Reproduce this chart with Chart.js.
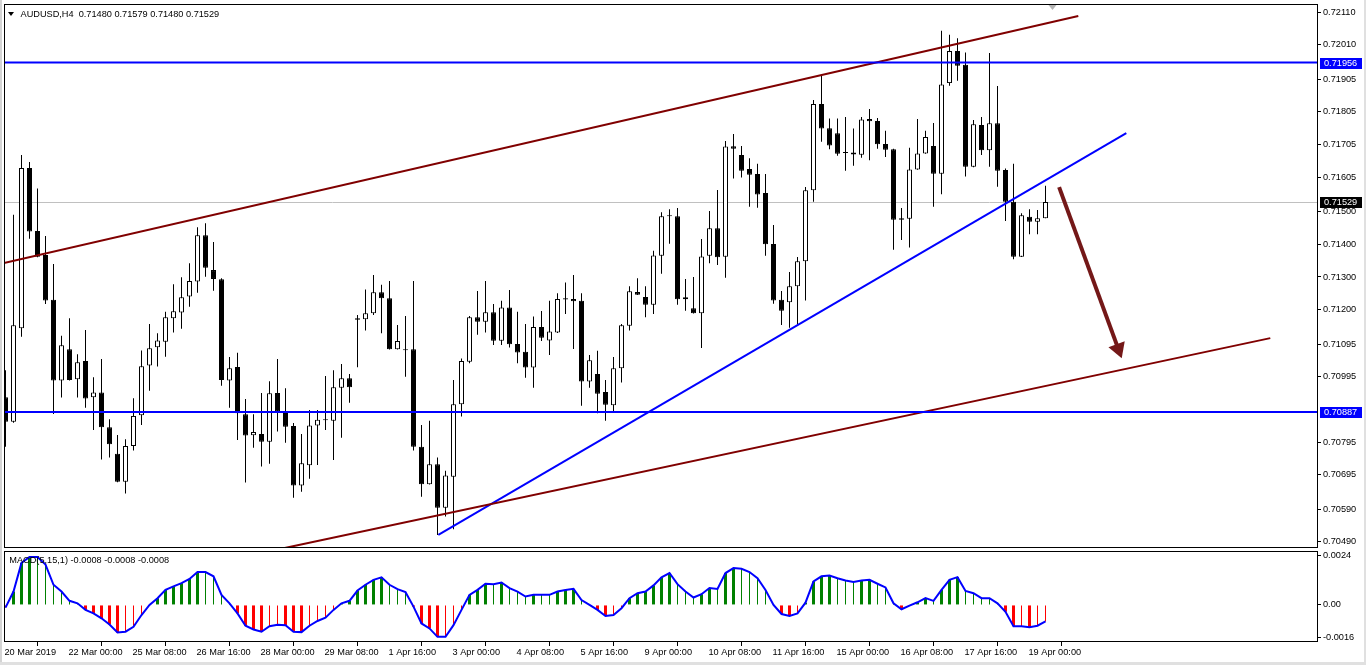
<!DOCTYPE html>
<html><head><meta charset="utf-8">
<script src="https://cdn.jsdelivr.net/npm/chart.js@4.4.1/dist/chart.umd.min.js"></script>
<style>
html,body{margin:0;padding:0;background:#fff;width:1366px;height:665px;overflow:hidden;}
#wrap{position:relative;width:1366px;height:665px;}
#main{position:absolute;left:0;top:0;}
#macd{position:absolute;left:0;top:549px;}
.lbl{position:absolute;font-family:'Liberation Sans',Arial,sans-serif;font-size:9.2px;color:#000;white-space:pre;line-height:10px;}
#tri{position:absolute;left:8px;top:12px;width:0;height:0;border-left:3.5px solid transparent;border-right:3.5px solid transparent;border-top:4px solid #000;}
#edgeL{position:absolute;left:0;top:0;width:2px;height:665px;background:#d4d4d4;}
#edgeR{position:absolute;right:0;top:0;width:2px;height:665px;background:#e0e0e0;}
#edgeB{position:absolute;left:0;bottom:0;width:1366px;height:3px;background:#e0e0e0;}
</style></head>
<body><div id="wrap">
<canvas id="main" width="1366" height="549"></canvas>
<canvas id="macd" width="1366" height="116"></canvas>
<div id="tri"></div>
<div class="lbl" style="left:20.5px;top:8.5px;">AUDUSD,H4  0.71480 0.71579 0.71480 0.71529</div>
<div class="lbl" style="left:9.3px;top:555px;">MACD(5,15,1) -0.0008 -0.0008 -0.0008</div>
<div id="edgeL"></div><div id="edgeR"></div><div id="edgeB"></div>
</div>
<script>
// ---- data (AUDUSD H4, bar 0 = 20 Mar 2019 16:00) ----
const opens = [0.70932,0.70857,0.71143,0.71633,0.71441,0.71367,0.71230,0.70983,0.71079,0.70987,
0.71043,0.70932,0.70947,0.70840,0.70759,0.70674,0.70783,0.70877,0.71029,0.71085,
0.71102,0.71174,0.71191,0.71240,0.71286,0.71428,0.71321,0.71293,0.70983,0.71025,
0.70880,0.70816,0.70820,0.70796,0.70945,0.70889,0.70844,0.70662,0.70724,0.70846,
0.70863,0.70860,0.70961,0.70990,0.71174,0.71171,0.71189,0.71253,0.71235,0.71079,
0.71079,0.71079,0.70781,0.70666,0.70727,0.70594,0.70689,0.70911,0.71041,0.71177,
0.71163,0.71192,0.71105,0.71207,0.71095,0.71071,0.71023,0.71147,0.71106,0.71130,
0.71235,0.71233,0.71227,0.70980,0.71003,0.70948,0.70908,0.71021,0.71151,0.71254,
0.71239,0.71215,0.71365,0.71486,0.71486,0.71232,0.71204,0.71189,0.71365,0.71449,
0.71362,0.71700,0.71673,0.71630,0.71615,0.71557,0.71401,0.71230,0.71223,0.71272,
0.71348,0.71565,0.71829,0.71755,0.71740,0.71681,0.71681,0.71674,0.71783,0.71777,
0.71707,0.71691,0.71480,0.71478,0.71629,0.71678,0.71701,0.71616,0.71893,0.71991,
0.71949,0.71637,0.71765,0.71688,0.71770,0.71627,0.71530,0.71362,0.71484,0.71469,
0.71480];
const highs = [0.71015,0.71490,0.71673,0.71652,0.71571,0.71425,0.71340,0.71120,0.71174,0.71064,
0.71138,0.70993,0.71049,0.70865,0.70817,0.70804,0.70929,0.71075,0.71156,0.71128,
0.71194,0.71278,0.71299,0.71342,0.71452,0.71464,0.71407,0.71296,0.71055,0.71068,
0.70927,0.70880,0.70945,0.70981,0.71049,0.70960,0.70853,0.70820,0.70893,0.70893,
0.70997,0.71015,0.71034,0.71003,0.71184,0.71262,0.71306,0.71276,0.71288,0.71153,
0.71181,0.71288,0.70847,0.70860,0.70748,0.70707,0.70985,0.71051,0.71181,0.71257,
0.71288,0.71217,0.71227,0.71260,0.71194,0.71156,0.71179,0.71196,0.71227,0.71250,
0.71283,0.71306,0.71250,0.71061,0.71074,0.70985,0.71055,0.71156,0.71272,0.71296,
0.71272,0.71380,0.71498,0.71507,0.71511,0.71294,0.71300,0.71416,0.71502,0.71566,
0.71716,0.71737,0.71701,0.71663,0.71646,0.71615,0.71459,0.71257,0.71315,0.71361,
0.71575,0.71841,0.71915,0.71785,0.71785,0.71789,0.71754,0.71789,0.71814,0.71786,
0.71747,0.71692,0.71511,0.71695,0.71783,0.71747,0.71771,0.72053,0.72041,0.72030,
0.71987,0.71780,0.71789,0.71985,0.71884,0.71632,0.71646,0.71495,0.71507,0.71505,
0.71579];
const lows = [0.70781,0.70854,0.71117,0.71417,0.71360,0.71217,0.70881,0.70931,0.70983,0.70931,
0.70900,0.70832,0.70742,0.70748,0.70672,0.70638,0.70769,0.70847,0.70952,0.71026,
0.71056,0.71130,0.71142,0.71209,0.71252,0.71301,0.71258,0.70967,0.70900,0.70801,
0.70671,0.70778,0.70720,0.70729,0.70827,0.70793,0.70625,0.70643,0.70683,0.70725,
0.70832,0.70740,0.70808,0.70915,0.71024,0.71136,0.71184,0.71128,0.71078,0.71078,
0.70995,0.70769,0.70628,0.70665,0.70511,0.70567,0.70528,0.70873,0.71036,0.71123,
0.71130,0.71092,0.71092,0.71084,0.71036,0.70992,0.70961,0.71104,0.71061,0.71129,
0.71187,0.71080,0.70906,0.70961,0.70883,0.70860,0.70888,0.70977,0.71136,0.71245,
0.71177,0.71187,0.71310,0.71402,0.71215,0.71197,0.71188,0.71083,0.71342,0.71337,
0.71298,0.71601,0.71604,0.71515,0.71512,0.71365,0.71218,0.71153,0.71145,0.71155,
0.71228,0.71530,0.71714,0.71691,0.71671,0.71625,0.71640,0.71665,0.71657,0.71692,
0.71667,0.71383,0.71413,0.71390,0.71628,0.71677,0.71515,0.71553,0.71885,0.71900,
0.71607,0.71636,0.71673,0.71637,0.71576,0.71471,0.71354,0.71361,0.71431,0.71431,
0.71480];
const closes = [0.70857,0.71152,0.71633,0.71439,0.71362,0.71228,0.70983,0.71091,0.70985,0.71039,
0.70928,0.70947,0.70840,0.70788,0.70674,0.70783,0.70875,0.71027,0.71082,0.71106,
0.71177,0.71195,0.71238,0.71288,0.71428,0.71328,0.71294,0.70985,0.71021,0.70883,
0.70815,0.70826,0.70796,0.70944,0.70888,0.70842,0.70662,0.70730,0.70846,0.70863,
0.70862,0.70963,0.70990,0.70963,0.71169,0.71189,0.71253,0.71235,0.71079,0.71104,
0.71076,0.70781,0.70666,0.70727,0.70594,0.70693,0.70911,0.71043,0.71177,0.71163,
0.71192,0.71105,0.71207,0.71094,0.71069,0.71023,0.71147,0.71114,0.71133,0.71233,
0.71231,0.71226,0.70980,0.71045,0.70943,0.70909,0.71021,0.71152,0.71256,0.71246,
0.71215,0.71366,0.71486,0.71487,0.71232,0.71238,0.71189,0.71363,0.71449,0.71360,
0.71699,0.71692,0.71625,0.71613,0.71552,0.71400,0.71228,0.71197,0.71272,0.71348,
0.71565,0.71829,0.71754,0.71702,0.71677,0.71679,0.71675,0.71782,0.71776,0.71706,
0.71689,0.71475,0.71475,0.71629,0.71678,0.71728,0.71616,0.71889,0.71991,0.71946,
0.71637,0.71767,0.71688,0.71770,0.71625,0.71530,0.71362,0.71489,0.71469,0.71480,
0.71529];
const macdValues = [-0.00013,0.00065,0.00204,0.00233,0.00233,0.00196,0.00098,0.00065,0.00020,0.00008,
-0.00024,-0.00041,-0.00065,-0.00095,-0.00134,-0.00130,-0.00106,-0.00049,0.00000,0.00033,
0.00073,0.00090,0.00106,0.00126,0.00160,0.00160,0.00139,0.00049,0.00008,-0.00041,
-0.00101,-0.00119,-0.00130,-0.00103,-0.00096,-0.00099,-0.00130,-0.00132,-0.00101,-0.00078,
-0.00062,-0.00024,0.00008,0.00020,0.00070,0.00098,0.00122,0.00134,0.00098,0.00077,
0.00062,-0.00008,-0.00090,-0.00114,-0.00155,-0.00155,-0.00098,-0.00024,0.00049,0.00073,
0.00103,0.00101,0.00109,0.00082,0.00065,0.00041,0.00049,0.00049,0.00049,0.00065,
0.00073,0.00078,0.00024,0.00000,-0.00024,-0.00054,-0.00049,-0.00016,0.00033,0.00057,
0.00065,0.00095,0.00134,0.00155,0.00101,0.00065,0.00036,0.00052,0.00082,0.00078,
0.00155,0.00179,0.00176,0.00160,0.00130,0.00073,0.00000,-0.00044,-0.00054,-0.00041,
0.00011,0.00114,0.00139,0.00143,0.00130,0.00119,0.00111,0.00119,0.00122,0.00103,
0.00085,0.00008,-0.00021,-0.00003,0.00013,0.00033,0.00020,0.00073,0.00122,0.00135,
0.00068,0.00057,0.00033,0.00033,0.00008,-0.00033,-0.00103,-0.00103,-0.00108,-0.00101,
-0.00080];
const xTickBars = [0,8,16,24,32,40,48,56,64,72,80,88,96,104,112,120,128];
const xTickLabels = ['20 Mar 2019','22 Mar 00:00','25 Mar 08:00','26 Mar 16:00','28 Mar 00:00','29 Mar 08:00',
'1 Apr 16:00','3 Apr 00:00','4 Apr 08:00','5 Apr 16:00','9 Apr 00:00','10 Apr 08:00','11 Apr 16:00',
'15 Apr 00:00','16 Apr 08:00','17 Apr 16:00','19 Apr 00:00'];
const priceTicks = [0.72110,0.72010,0.71905,0.71805,0.71705,0.71605,0.71500,0.71400,0.71300,0.71200,
0.71095,0.70995,0.70795,0.70695,0.70590,0.70490];
const macdTicks = [0.0024,0,-0.0016];
const macdTickLabels = ['0.0024','0.00','-0.0016'];
const levelPrices = [0.71956,0.70887];
const lastPrice = 0.71529;
// trendlines: [barIndex, price] endpoints
const upperChannel = [[-0.19,0.71343],[134.1,0.72098]];
const lowerChannel = [[34.9,0.70471],[158.1,0.71113]];
const blueTrend = [[54.1,0.70511],[140.1,0.71740]];
const arrowLine = [[131.7,0.71575],[139.1,0.71080]];
const shiftMarkerBar = 130.8;

// ---- view ----
const xMin = -0.1875, xMax = 164.0625;
const yMin = 0.70471, yMax = 0.72135;
const mMin = -0.00180, mMax = 0.00262;
const FONT = {family:"'Liberation Sans', Arial, sans-serif", size:9.2};
const AXIS_W = 48;

const bars = opens.map((_, i) => i);
const wickData = bars.map(i => ({x:i, y:[lows[i], highs[i]]}));
const bodyData = bars.map(i => ({x:i, y:[Math.min(opens[i],closes[i]), Math.max(opens[i],closes[i])]}));
const seg = (pts) => pts.map(p => ({x:p[0], y:p[1]}));
const hline = (v) => [{x:xMin, y:v},{x:xMax, y:v}];
const noPad = (s) => { s.paddingTop = 0; s.paddingBottom = 0; s.paddingLeft = 0; s.paddingRight = 0; };

const framePlugin = {
  id:'frame',
  afterDraw(chart){
    const {ctx, chartArea:a} = chart;
    ctx.save();
    ctx.strokeStyle = '#000'; ctx.lineWidth = 1;
    ctx.strokeRect(a.left+0.5, a.top+0.5, a.right-a.left-1, a.bottom-a.top-1);
    ctx.restore();
  }
};

const pricePlugin = {
  id:'prices',
  beforeDatasetsDraw(chart){
    const {ctx, chartArea:a, scales} = chart;
    const y = Math.round(scales.y.getPixelForValue(lastPrice)) + 0.5;
    ctx.save();
    ctx.strokeStyle = '#c0c0c0'; ctx.lineWidth = 1;
    ctx.beginPath(); ctx.moveTo(a.left, y); ctx.lineTo(a.right, y); ctx.stroke();
    ctx.restore();
  },
  afterDraw(chart){
    const {ctx, chartArea:a, scales} = chart;
    ctx.save();
    const boxes = levelPrices.map(v => [v, '#0000ff']).concat([[lastPrice, '#000000']]);
    ctx.font = "9.2px 'Liberation Sans', Arial, sans-serif";
    ctx.textBaseline = 'middle';
    boxes.forEach(([v, c]) => {
      const y = Math.round(scales.y.getPixelForValue(v));
      ctx.fillStyle = c;
      ctx.fillRect(a.right + 2, y - 5, 42, 11);
      ctx.fillStyle = '#fff';
      ctx.fillText(v.toFixed(5), a.right + 6, y + 0.5);
    });
    const sx = Math.round(scales.x.getPixelForValue(shiftMarkerBar)) + 0.5;
    ctx.fillStyle = '#b4b4b4';
    ctx.beginPath(); ctx.moveTo(sx-4, a.top+1); ctx.lineTo(sx+4, a.top+1); ctx.lineTo(sx, a.top+6); ctx.closePath(); ctx.fill();
    ctx.restore();
  }
};

const lineDs = (data, color, w, extra) => Object.assign({type:'line', data, borderColor:color, borderWidth:w,
  pointRadius:0, tension:0, order:0, fill:false}, extra || {});

new Chart(document.getElementById('main'), {
  type:'bar',
  data:{datasets:[
    {type:'bar', data:wickData, backgroundColor:'#000', borderWidth:0, barThickness:1, grouped:false, order:3, inflateAmount:0},
    {type:'bar', data:bodyData, backgroundColor:(c)=> closes[c.dataIndex] >= opens[c.dataIndex] ? '#ffffff' : '#000000',
      borderColor:'#000', borderWidth:1, borderSkipped:false, barThickness:5, grouped:false, minBarLength:1, order:2, inflateAmount:0},
    lineDs(hline(levelPrices[0]), '#0000ff', 2),
    lineDs(hline(levelPrices[1]), '#0000ff', 2),
    lineDs(seg(upperChannel), '#800000', 2),
    lineDs(seg(lowerChannel), '#800000', 2),
    lineDs(seg(blueTrend), '#0000ff', 2),
    lineDs(seg(arrowLine), '#741818', 4, {pointRadius:(c)=> c.dataIndex === 1 ? 10 : 0, pointStyle:'triangle',
      pointRotation:160, pointBackgroundColor:'#741818', pointBorderColor:'#741818', pointBorderWidth:0})
  ]},
  options:{
    responsive:false, animation:false, events:[],
    layout:{autoPadding:false, padding:{left:4, top:4, right:0, bottom:1}},
    plugins:{legend:{display:false}, tooltip:{enabled:false}},
    scales:{
      x:{type:'linear', display:false, min:xMin, max:xMax, offset:false},
      y:{position:'right', min:yMin, max:yMax,
        afterFit:(s)=>{ s.width = AXIS_W; noPad(s); },
        afterBuildTicks:(s)=>{ s.ticks = priceTicks.map(v=>({value:v})); },
        ticks:{callback:(v)=> Number(v).toFixed(5), font:FONT, color:'#000', padding:2, autoSkip:false},
        grid:{drawOnChartArea:false, drawTicks:true, tickLength:3, color:'#000'},
        border:{display:false}}
    }
  },
  plugins:[pricePlugin, framePlugin]
});

const isThick = (i) => { const v = macdValues[i], p = i > 0 ? macdValues[i-1] : v; return v >= 0 ? v > p : v < p; };
const thickData = bars.map(i => ({x:i, y: isThick(i) ? macdValues[i] : null}));
const thinData = bars.map(i => ({x:i, y: isThick(i) ? null : macdValues[i]}));
const histColor = (c) => { const v = macdValues[c.dataIndex]; return v >= 0 ? '#008000' : '#ff0000'; };

new Chart(document.getElementById('macd'), {
  type:'bar',
  data:{datasets:[
    {type:'line', data:bars.map(i=>({x:i, y:macdValues[i]})), borderColor:'#0000ff', borderWidth:2, pointRadius:0, tension:0, order:0},
    {type:'bar', data:thickData, backgroundColor:histColor, borderWidth:0, barThickness:3, grouped:false, order:1, inflateAmount:0},
    {type:'bar', data:thinData, backgroundColor:histColor, borderWidth:0, barThickness:1, grouped:false, order:1, inflateAmount:0}
  ]},
  options:{
    responsive:false, animation:false, events:[],
    layout:{autoPadding:false, padding:{left:4, top:2, right:0, bottom:0}},
    plugins:{legend:{display:false}, tooltip:{enabled:false}},
    scales:{
      x:{type:'linear', min:xMin, max:xMax, offset:false,
        afterFit:(s)=>{ s.height = 23; noPad(s); },
        afterBuildTicks:(s)=>{ s.ticks = xTickBars.map(v=>({value:v})); },
        ticks:{callback:(v,i)=> xTickLabels[i], align:'start', autoSkip:false, maxRotation:0, minRotation:0,
          padding:1, labelOffset:-1, font:FONT, color:'#000'},
        grid:{drawOnChartArea:false, drawTicks:true, tickLength:4, color:'#000'},
        border:{display:false}},
      y:{position:'right', min:mMin, max:mMax,
        afterFit:(s)=>{ s.width = AXIS_W; noPad(s); },
        afterBuildTicks:(s)=>{ s.ticks = macdTicks.map(v=>({value:v})); },
        ticks:{callback:(v,i)=> macdTickLabels[i], font:FONT, color:'#000', padding:2, autoSkip:false},
        grid:{drawOnChartArea:false, drawTicks:true, tickLength:3, color:'#000'},
        border:{display:false}}
    }
  },
  plugins:[framePlugin]
});
</script>
</body></html>
